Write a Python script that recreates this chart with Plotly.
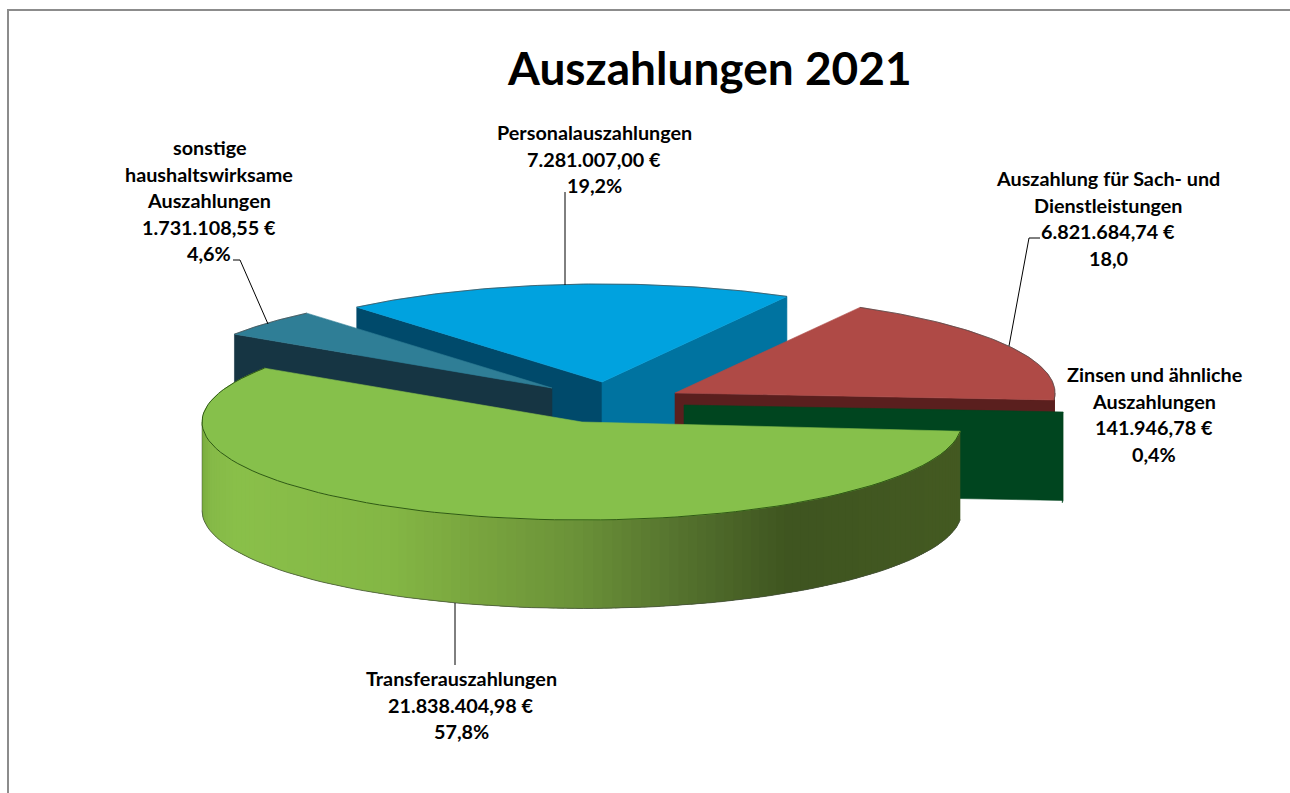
import numpy as np
import plotly.graph_objects as go

# ---- data (clockwise order, starting at the top slice) ----
categories = ["Personalauszahlungen", "Auszahlung für Sach- und Dienstleistungen",
              "Zinsen und ähnliche Auszahlungen", "Transferauszahlungen",
              "sonstige haushaltswirksame Auszahlungen"]
values_eur = [7281007.00, 6821684.74, 141946.78, 21838404.98, 1731108.55]
percent_labels = ["19,2%", "18,0", "0,4%", "57,8%", "4,6%"]
title_text = "Auszahlungen 2021"

label_lines = [
    ["Personalauszahlungen"],
    ["Auszahlung für Sach- und", "Dienstleistungen"],
    ["Zinsen und ähnliche", "Auszahlungen"],
    ["Transferauszahlungen"],
    ["sonstige", "haushaltswirksame", "Auszahlungen"],
]

# ---- styling / projection ----
top_colors = ["#00A2DF", "#AF4A46", "#00451F", "#86C04B", "#2F7E96"]
wall_colors = ["#004A6B", "#5A1F1E", "#00451F", "#3F5520", "#163543"]
rim_colors = ["rgba(70,70,70,.7)", "rgba(70,70,70,.7)", "#00451F", "#2F5A14", "rgba(70,70,70,.7)"]
apex_x = [602, 675, 684, 582, 552]
apex_y = [382, 393, 405, 422, 388]
label_x = [594, 1108, 1154, 461, 209]
label_y = [132, 178, 374, 678, 147]
RX, RY, DEPTH, LINE_STEP = 380, 98, 88.5, 26.5
START_DEG = -40.2
FONT = "Lato"
gradient_x = [202, 212, 240, 394, 476, 578, 680, 792, 962]
gradient_rgb = [(122, 172, 62), (134, 186, 72), (138, 192, 74), (132, 183, 69), (122, 166, 63),
                (108, 147, 57), (86, 116, 47), (63, 85, 32), (68, 90, 34)]


def rim(i, a, b, n=90):
    t = np.radians(np.linspace(a, b, n))
    return apex_x[i] + RX * np.sin(t), apex_y[i] - RY * np.cos(t)


def poly(fig, xs, ys, fill, line=None, width=0.6, name=None, hover=None):
    fig.add_trace(go.Scatter(
        x=list(xs), y=list(ys), mode="lines", fill="toself", fillcolor=fill,
        line=dict(color=line or fill, width=width), showlegend=False,
        name=name, hoveron="fills", hoverinfo="text" if hover else "skip", text=hover))


total = sum(values_eur)
edges = START_DEG + np.concatenate([[0], np.cumsum(values_eur)]) / total * 360


def eur(v):
    return f"{v:,.2f} €".replace(",", "#").replace(".", ",").replace("#", ".")


def draw_face(fig, i, deg, color):
    x, y = rim(i, deg, deg, 1)
    ax, ay = apex_x[i], apex_y[i]
    poly(fig, [ax, x[0], x[0], ax, ax], [ay, y[0], y[0] + DEPTH, ay + DEPTH, ay], color)


def draw_wall(fig, i, shaded=False):
    a, b = edges[i], edges[i + 1]
    a2, b2 = max(a, 90), min(b, 270)
    if a2 >= b2:
        return
    if not shaded:
        x, y = rim(i, a2, b2)
        poly(fig, np.r_[x, x[::-1]], np.r_[y, y[::-1] + DEPTH], wall_colors[i])
        return
    # strips overlap the next one, so that no seams are left between them
    ts = np.linspace(a2, b2, 121)
    for t0, t1 in zip(ts[:-1], ts[1:]):
        x, y = rim(i, t0, min(t1 + 2.5, b2), 7)
        xm = apex_x[i] + RX * np.sin(np.radians(t0))
        rgb = [np.interp(xm, gradient_x, [c[k] for c in gradient_rgb]) for k in range(3)]
        col = "rgb(%d,%d,%d)" % tuple(rgb)
        poly(fig, np.r_[x, x[::-1]], np.r_[y, y[::-1] + DEPTH], col, width=0)
    # silhouette of the lower edge
    x, y = rim(i, a2, b2)
    fig.add_trace(go.Scatter(x=x, y=y + DEPTH, mode="lines", showlegend=False, hoverinfo="skip",
                             line=dict(color="rgba(70,80,60,.75)", width=1)))
    fig.add_trace(go.Scatter(x=[x[-1], x[-1]], y=[y[-1], y[-1] + DEPTH], mode="lines",
                             showlegend=False, hoverinfo="skip",
                             line=dict(color="rgba(70,80,60,.6)", width=0.8)))


def draw_top(fig, i):
    x, y = rim(i, edges[i], edges[i + 1])
    hover = f"{categories[i]}<br>{eur(values_eur[i])}<br>{percent_labels[i]}"
    poly(fig, np.r_[apex_x[i], x, apex_x[i]], np.r_[apex_y[i], y, apex_y[i]], top_colors[i],
         name=categories[i], hover=hover)
    fig.add_trace(go.Scatter(x=x, y=y, mode="lines", showlegend=False, hoverinfo="skip",
                             line=dict(color=rim_colors[i], width=1)))


fig = go.Figure()

# painter's order: Personal, sonstige, Sach, Zinsen, Transfer
draw_face(fig, 0, edges[0], wall_colors[0])
draw_face(fig, 0, edges[1], "#0073A0")
draw_top(fig, 0)

draw_face(fig, 4, edges[4], wall_colors[4])
draw_top(fig, 4)

draw_face(fig, 1, edges[2], wall_colors[1])
draw_wall(fig, 1)
draw_top(fig, 1)

draw_face(fig, 2, edges[2], wall_colors[2])
draw_wall(fig, 2)

draw_wall(fig, 3, shaded=True)
draw_top(fig, 3)

# labels, one annotation per text line
annotations = [dict(x=709, y=67, text=f"<b>{title_text}</b>", showarrow=False, xref="x", yref="y",
                    xanchor="center", yanchor="middle",
                    font=dict(family=FONT, size=46, color="#000000"))]
for i in range(len(categories)):
    lines = label_lines[i] + [eur(values_eur[i]), percent_labels[i]]
    for k, line in enumerate(lines):
        annotations.append(dict(x=label_x[i], y=label_y[i] + k * LINE_STEP, text=f"<b>{line}</b>",
                                showarrow=False, xref="x", yref="y", xanchor="center",
                                yanchor="middle", font=dict(family=FONT, size=19.8, color="#000000")))


def seg(path, color="#000000", width=1):
    return dict(type="path", path=path, xref="x", yref="y", line=dict(color=color, width=width),
                fillcolor="rgba(0,0,0,0)")


shapes = [
    seg("M 8 793 L 8 10 L 1290 10", "#8C8C8C", 2),
    seg("M 565 285 L 565 192"),
    seg("M 1009 346 L 1029 238 L 1040 238"),
    seg("M 268 324 L 240 260 L 233 260"),
    seg("M 455 603 L 455 665"),
]

fig.update_layout(
    width=1290, height=793, autosize=False,
    margin=dict(l=0, r=0, t=0, b=0),
    paper_bgcolor="#FFFFFF", plot_bgcolor="#FFFFFF",
    xaxis=dict(range=[0, 1290], visible=False, fixedrange=True),
    yaxis=dict(range=[793, 0], visible=False, fixedrange=True),
    annotations=annotations, shapes=shapes, showlegend=False,
)

fig.write_html("out.html", config=dict(displayModeBar=False),
               post_script="document.body.style.margin='0';document.body.style.overflow='hidden';")
